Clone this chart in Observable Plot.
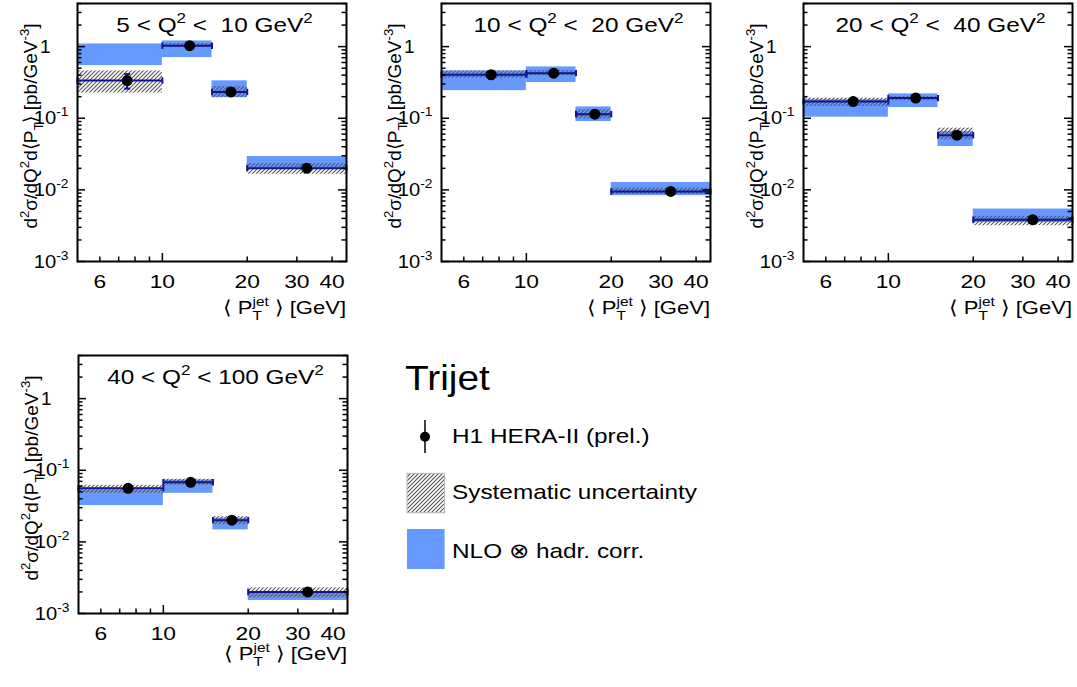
<!DOCTYPE html>
<html><head><meta charset="utf-8">
<script src="https://cdn.jsdelivr.net/npm/d3@7"></script>
<script src="https://cdn.jsdelivr.net/npm/@observablehq/plot@0.6"></script>
<style>
html,body{margin:0;padding:0;background:#fff;overflow:hidden;}
#root{position:relative;width:1077px;height:687px;font-family:"Liberation Sans",Arial,Helvetica,sans-serif;}
#root svg{position:absolute;overflow:visible;}
</style></head>
<body><div id="root">
<svg width="0" height="0" style="position:absolute"><defs>
<pattern id="hatch" patternUnits="userSpaceOnUse" width="4" height="4">
<path d="M-1,1 l2,-2 M0,4 l4,-4 M3,5 l2,-2" stroke="#555" stroke-width="1.1"/>
</pattern></defs></svg>
</div>
<script>
// ---------- data ----------
const binLo = [5, 10, 15, 20];
const binHi = [10, 15, 20, 45];
const ptMean = [7.5, 12.5, 17.5, 32.5];
const q2Lo = ["5", "10", "20", "40"];
const q2Hi = ["10", "20", "40", "100"];
const q2Gap = ["  ", "  ", "  ", " "];

const xsec = [
  [0.336, 1.03, 0.233, 0.0201],
  [0.405, 0.426, 0.114, 0.0095],
  [0.171, 0.191, 0.058, 0.00383],
  [0.056, 0.0679, 0.0201, 0.0020]
];
const statErr = [
  [0.077, 0.03, 0.008, 0.0008],
  [0.012, 0.012, 0.004, 0.0004],
  [0.006, 0.006, 0.002, 0.00015],
  [0.002, 0.002, 0.0007, 0.0001]
];
const sysLow = [
  [0.224, 0.97, 0.194, 0.0165],
  [0.362, 0.394, 0.098, 0.0086],
  [0.146, 0.175, 0.050, 0.00316],
  [0.0477, 0.0617, 0.0173, 0.00165]
];
const sysHigh = [
  [0.458, 1.11, 0.277, 0.0232],
  [0.458, 0.463, 0.131, 0.0106],
  [0.191, 0.200, 0.0728, 0.00425],
  [0.0617, 0.075, 0.0225, 0.00228]
];
const nloLow = [
  [0.543, 0.703, 0.194, 0.0200],
  [0.243, 0.315, 0.090, 0.0083],
  [0.1035, 0.141, 0.0403, 0.0035],
  [0.0321, 0.0477, 0.0147, 0.00152]
];
const nloHigh = [
  [1.09, 1.20, 0.333, 0.0292],
  [0.458, 0.521, 0.144, 0.0127],
  [0.181, 0.219, 0.0652, 0.0054],
  [0.0531, 0.0731, 0.0214, 0.00194]
];
const xTickLabels = [6, 10, 20, 30, 40];
const xMinorTicks = [6, 7, 8, 9, 20, 30, 40];
const xMajorTicks = [10];
const yTickLabels = [0.001, 0.01, 0.1, 1];
const yMinorTicks = [2,3,4,5,6,7,8,9].flatMap(m => [1e-3, 1e-2, 1e-1, 1].map(d => m * d)).filter(v => v <= 4);

const legendTitle = "Trijet";
const legendLabels = ["H1 HERA-II (prel.)", "Systematic uncertainty", "NLO \u2297 hadr. corr."];

// ---------- layout ----------
const FW = 269, FH = 258;
const ml = 80, mr = 8, mt = 6, mb = 75;
const panelPos = [[77.3, 3.3], [441, 3.3], [803, 3.3], [77.7, 355]];
const xLabelOff = [53, 53, 53, 47];
const NAVY = "#15158f", BLUE = "#6699ff";
const FONT = '"Liberation Sans", Arial, Helvetica, sans-serif';
const SX = 1.16;

const vcap = {draw(ctx) { ctx.moveTo(0, -3.2); ctx.lineTo(0, 3.2); }};
const hcap = {draw(ctx) { ctx.moveTo(-3, 0); ctx.lineTo(3, 0); }};

function rich(sel, parts, F) {
  let shift = 0;
  for (const p of parts) {
    const target = p.sup ? -0.42 * F : p.sub ? 0.32 * F : 0;
    const ts = sel.append("tspan").text(p.t);
    if (target !== shift) ts.attr("dy", target - shift);
    if (p.sup || p.sub) ts.attr("font-size", 0.7 * F);
    if (p.dx) ts.attr("dx", p.dx);
    shift = target;
  }
}
function widen(el, sx) {
  const w = el.getComputedTextLength();
  if (w > 0) {
    el.setAttribute("textLength", (w * sx).toFixed(2));
    el.setAttribute("lengthAdjust", "spacingAndGlyphs");
  }
}
function htext(parent, x, y, size, sx, anchor) {
  return parent.append("text")
    .attr("transform", `translate(${x},${y}) scale(${sx},1)`)
    .attr("text-anchor", anchor).attr("font-size", size).attr("font-family", FONT)
    .attr("fill", "black").style("white-space", "pre");
}

const root = document.getElementById("root");
const xLabelSet = new Set(xTickLabels.map(String));

for (let p = 0; p < 4; p++) {
  const rows = binLo.map((lo, i) => ({
    lo, hi: binHi[i], pt: ptMean[i], v: xsec[p][i],
    sLo: xsec[p][i] - statErr[p][i], sHi: xsec[p][i] + statErr[p][i],
    sysLo: sysLow[p][i], sysHi: sysHigh[p][i],
    nloLo: nloLow[p][i], nloHi: nloHigh[p][i]
  }));
  const svg = Plot.plot({
    width: ml + FW + mr, height: mt + FH + mb,
    marginLeft: ml, marginRight: mr, marginTop: mt, marginBottom: mb,
    x: {type: "log", domain: [5, 45], axis: null},
    y: {type: "log", domain: [1e-3, 4], axis: null},
    style: {fontFamily: FONT, fontSize: "19px", color: "black", background: "transparent", overflow: "visible"},
    marks: [
      Plot.rect(rows, {x1: "lo", x2: "hi", y1: "nloLo", y2: "nloHi", fill: BLUE}),
      Plot.rect(rows, {x1: "lo", x2: "hi", y1: "sysLo", y2: "sysHi", fill: "url(#hatch)"}),
      Plot.ruleY(rows, {y: "v", x1: "lo", x2: "hi", stroke: NAVY, strokeWidth: 2}),
      Plot.dot(rows, {x: "lo", y: "v", symbol: vcap, stroke: NAVY, fill: "none", strokeWidth: 2}),
      Plot.dot(rows, {x: "hi", y: "v", symbol: vcap, stroke: NAVY, fill: "none", strokeWidth: 2}),
      Plot.ruleX(rows, {x: "pt", y1: "sLo", y2: "sHi", stroke: NAVY, strokeWidth: 2}),
      Plot.dot(rows, {x: "pt", y: "sLo", symbol: hcap, stroke: NAVY, fill: "none", strokeWidth: 2}),
      Plot.dot(rows, {x: "pt", y: "sHi", symbol: hcap, stroke: NAVY, fill: "none", strokeWidth: 2}),
      Plot.dot(rows, {x: "pt", y: "v", r: 5.5, fill: "black"}),
      // inward ticks
      Plot.tickX(xMajorTicks, {x: d => d, insetTop: FH - 8, stroke: "black", strokeWidth: 1.5}),
      Plot.tickX(xMinorTicks, {x: d => d, insetTop: FH - 4.5, stroke: "black", strokeWidth: 1.5}),
      Plot.tickY(yTickLabels, {y: d => d, insetRight: FW - 8, stroke: "black", strokeWidth: 1.5}),
      Plot.tickY(yTickLabels, {y: d => d, insetLeft: FW - 8, stroke: "black", strokeWidth: 1.5}),
      Plot.tickY(yMinorTicks, {y: d => d, insetRight: FW - 4.5, stroke: "black", strokeWidth: 1.5}),
      Plot.tickY(yMinorTicks, {y: d => d, insetLeft: FW - 4.5, stroke: "black", strokeWidth: 1.5}),
      Plot.axisX({ticks: xTickLabels, tickFormat: d => String(d), tickSize: 0, tickPadding: 13, label: null, fontSize: 19}),
      Plot.axisY({ticks: yTickLabels, tickFormat: d => d === 1 ? "1" : "10^" + Math.round(Math.log10(d)), tickSize: 0, tickPadding: 9, label: null, fontSize: 19}),
      Plot.frame({stroke: "black", strokeWidth: 2})
    ]
  });
  svg.style.left = (panelPos[p][0] - ml) + "px";
  svg.style.top = (panelPos[p][1] - mt) + "px";
  root.appendChild(svg);

  const s = d3.select(svg);
  // tick labels: superscripts and horizontal proportions
  s.selectAll("text").each(function() {
    const t = this.textContent;
    const el = d3.select(this);
    const m = /^10\^(-?\d+)$/.exec(t);
    if (m) {
      el.text("");
      el.append("tspan").text("10");
      el.append("tspan").attr("dy", -8).attr("font-size", 13).text(m[1]);
      widen(this, 1.06);
    } else if (t === "1") {
      el.attr("dx", -18);
    } else if (xLabelSet.has(t)) {
      widen(this, 1.2);
    }
  });
  // panel title
  const title = htext(s, ml + FW / 2 + 3, mt + 29, 21, SX, "middle");
  rich(title, [{t: q2Lo[p] + " < Q"}, {t: "2", sup: 1}, {t: " <" + q2Gap[p] + q2Hi[p] + " GeV"}, {t: "2", sup: 1}], 21);
  // x label
  const xl = htext(s, ml + FW, mt + FH + xLabelOff[p], 19, SX, "end");
  rich(xl, [{t: "\u27E8 P"}, {t: "T", sub: 1}, {t: "jet", sup: 1, dx: -8}, {t: " \u27E9 [GeV]"}], 19);
  // y label
  const yl = s.append("text")
    .attr("transform", `translate(${ml - 40},${mt + FH / 2 - 6}) rotate(-90)`)
    .attr("text-anchor", "middle").attr("font-size", 19).attr("font-family", FONT)
    .style("white-space", "pre");
  rich(yl, [{t: "d"}, {t: "2", sup: 1}, {t: "\u03C3/dQ"}, {t: "2", sup: 1}, {t: "d\u27E8P"}, {t: "T", sub: 1}, {t: "\u27E9 [pb/GeV"}, {t: "-3", sup: 1}, {t: "]"}], 19);
}

// ---------- legend ----------
const lg = d3.select(root).append("svg").attr("width", 420).attr("height", 260)
  .style("left", "380px").style("top", "340px").attr("font-family", FONT);
htext(lg, 25, 50, 36, 1.08, "start").text(legendTitle);
lg.append("line").attr("x1", 45).attr("x2", 45).attr("y1", 80).attr("y2", 113).attr("stroke", "black").attr("stroke-width", 1.5);
lg.append("circle").attr("cx", 45).attr("cy", 96.7).attr("r", 5).attr("fill", "black");
htext(lg, 72, 103, 21, SX, "start").text(legendLabels[0]);
lg.append("rect").attr("x", 27).attr("y", 133.3).attr("width", 37.6).attr("height", 39.4).attr("fill", "url(#hatch)").attr("stroke", "#bbb");
htext(lg, 72, 159.3, 21, SX, "start").text(legendLabels[1]);
lg.append("rect").attr("x", 27).attr("y", 189).attr("width", 37.6).attr("height", 40).attr("fill", BLUE);
htext(lg, 72, 218.3, 21, SX, "start").text(legendLabels[2]);
</script>
</body></html>
